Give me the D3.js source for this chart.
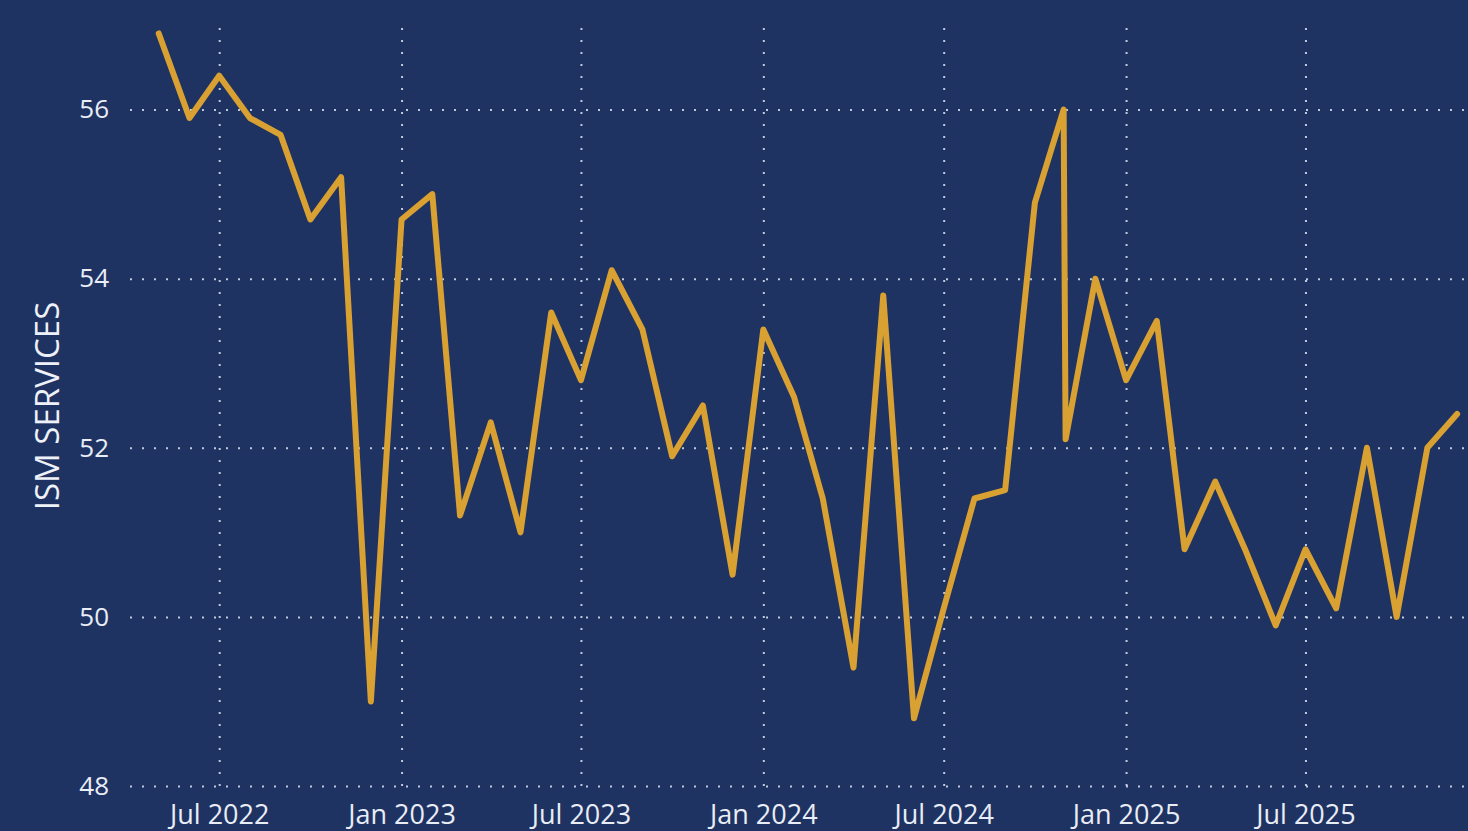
<!DOCTYPE html>
<html>
<head>
<meta charset="utf-8">
<script src="https://cdn.jsdelivr.net/npm/d3@7"></script>
<style>
  html, body { margin: 0; padding: 0; background: #1f3363; }
  svg { display: block; }
</style>
</head>
<body>
<div id="chart"></div>
<script>
// ISM services index, monthly readings (two readings close together in autumn 2024)
var dates = [
    "2022-05-01", "2022-06-01", "2022-07-01", "2022-08-01", "2022-09-01", "2022-10-01",
    "2022-11-01", "2022-12-01", "2023-01-01", "2023-02-01", "2023-03-01", "2023-04-01",
    "2023-05-01", "2023-06-01", "2023-07-01", "2023-08-01", "2023-09-01", "2023-10-01",
    "2023-11-01", "2023-12-01", "2024-01-01", "2024-02-01", "2024-03-01", "2024-04-01",
    "2024-05-01", "2024-06-01", "2024-07-01", "2024-08-01", "2024-09-01", "2024-10-01",
    "2024-10-30", "2024-11-01", "2024-12-01", "2025-01-01", "2025-02-01", "2025-03-01",
    "2025-04-01", "2025-05-01", "2025-06-01", "2025-07-01", "2025-08-01", "2025-09-01",
    "2025-10-01", "2025-11-01", "2025-12-01"
];
var ismValues = [
    56.9, 55.9, 56.4, 55.9, 55.7, 54.7,
    55.2, 49.0, 54.7, 55.0, 51.2, 52.3,
    51.0, 53.6, 52.8, 54.1, 53.4, 51.9,
    52.5, 50.5, 53.4, 52.6, 51.4, 49.4,
    53.8, 48.8, 50.1, 51.4, 51.5, 54.9,
    56.0, 52.1, 54.0, 52.8, 53.5, 50.8,
    51.6, 50.8, 49.9, 50.8, 50.1, 52.0,
    50.0, 52.0, 52.4
];
var yTicks = [48, 50, 52, 54, 56];
var xTickDates = ["2022-07-01", "2023-01-01", "2023-07-01", "2024-01-01", "2024-07-01", "2025-01-01", "2025-07-01"];
var xDomain = ["2022-04-02", "2025-12-12"];
var yDomain = [48, 57];
var yTitle = "ISM SERVICES";

var parse = d3.timeParse("%Y-%m-%d");
var data = dates.map(function (d, i) { return { date: parse(d), value: ismValues[i] }; });

// set the dimensions and margins of the graph
var margin = { top: 25, right: 0, bottom: 45, left: 130 },
    width = 1468 - margin.left - margin.right,
    height = 831 - margin.top - margin.bottom;

var svg = d3.select("#chart")
    .append("svg")
    .attr("width", 1468)
    .attr("height", 831);

svg.append("rect")
    .attr("width", 1468)
    .attr("height", 831)
    .attr("fill", "#1f3363");

var g = svg.append("g")
    .attr("transform", "translate(" + margin.left + "," + margin.top + ")");

var x = d3.scaleTime()
    .domain(xDomain.map(parse))
    .range([0, width]);

var y = d3.scaleLinear()
    .domain(yDomain)
    .range([height, 0]);

// Y axis + horizontal grid
var yAxis = g.append("g")
    .call(d3.axisLeft(y)
        .tickValues(yTicks)
        .tickSize(-width)
        .tickPadding(21)
        .tickFormat(d3.format("d")));

// X axis + vertical grid
var xAxis = g.append("g")
    .attr("transform", "translate(0," + height + ")")
    .call(d3.axisBottom(x)
        .tickValues(xTickDates.map(parse))
        .tickSize(-height)
        .tickPadding(19)
        .tickFormat(d3.timeFormat("%b %Y")));

[yAxis, xAxis].forEach(function (ax) {
    ax.select(".domain").remove();
    ax.selectAll(".tick line")
        .attr("stroke", "#dde3f0")
        .attr("stroke-width", 2)
        .attr("stroke-dasharray", "2,10")
        .attr("opacity", 0.85);
    ax.selectAll(".tick text")
        .attr("fill", "#e9edf5")
        .style("font-family", "'Open Sans', sans-serif");
});
yAxis.selectAll(".tick text").style("font-size", "26px");
xAxis.selectAll(".tick text").style("font-size", "27px");

// axis title
svg.append("text")
    .attr("transform", "translate(59,406) rotate(-90)")
    .attr("text-anchor", "middle")
    .attr("fill", "#eef1f7")
    .style("font-family", "'Open Sans', sans-serif")
    .style("font-size", "33px")
    .text(yTitle);

// the series
var line = d3.line()
    .x(function (d) { return x(d.date); })
    .y(function (d) { return y(d.value); });

g.append("path")
    .datum(data)
    .attr("fill", "none")
    .attr("stroke", "#d9a032")
    .attr("stroke-width", 6)
    .attr("stroke-linejoin", "round")
    .attr("stroke-linecap", "round")
    .attr("d", line);
</script>
</body>
</html>
